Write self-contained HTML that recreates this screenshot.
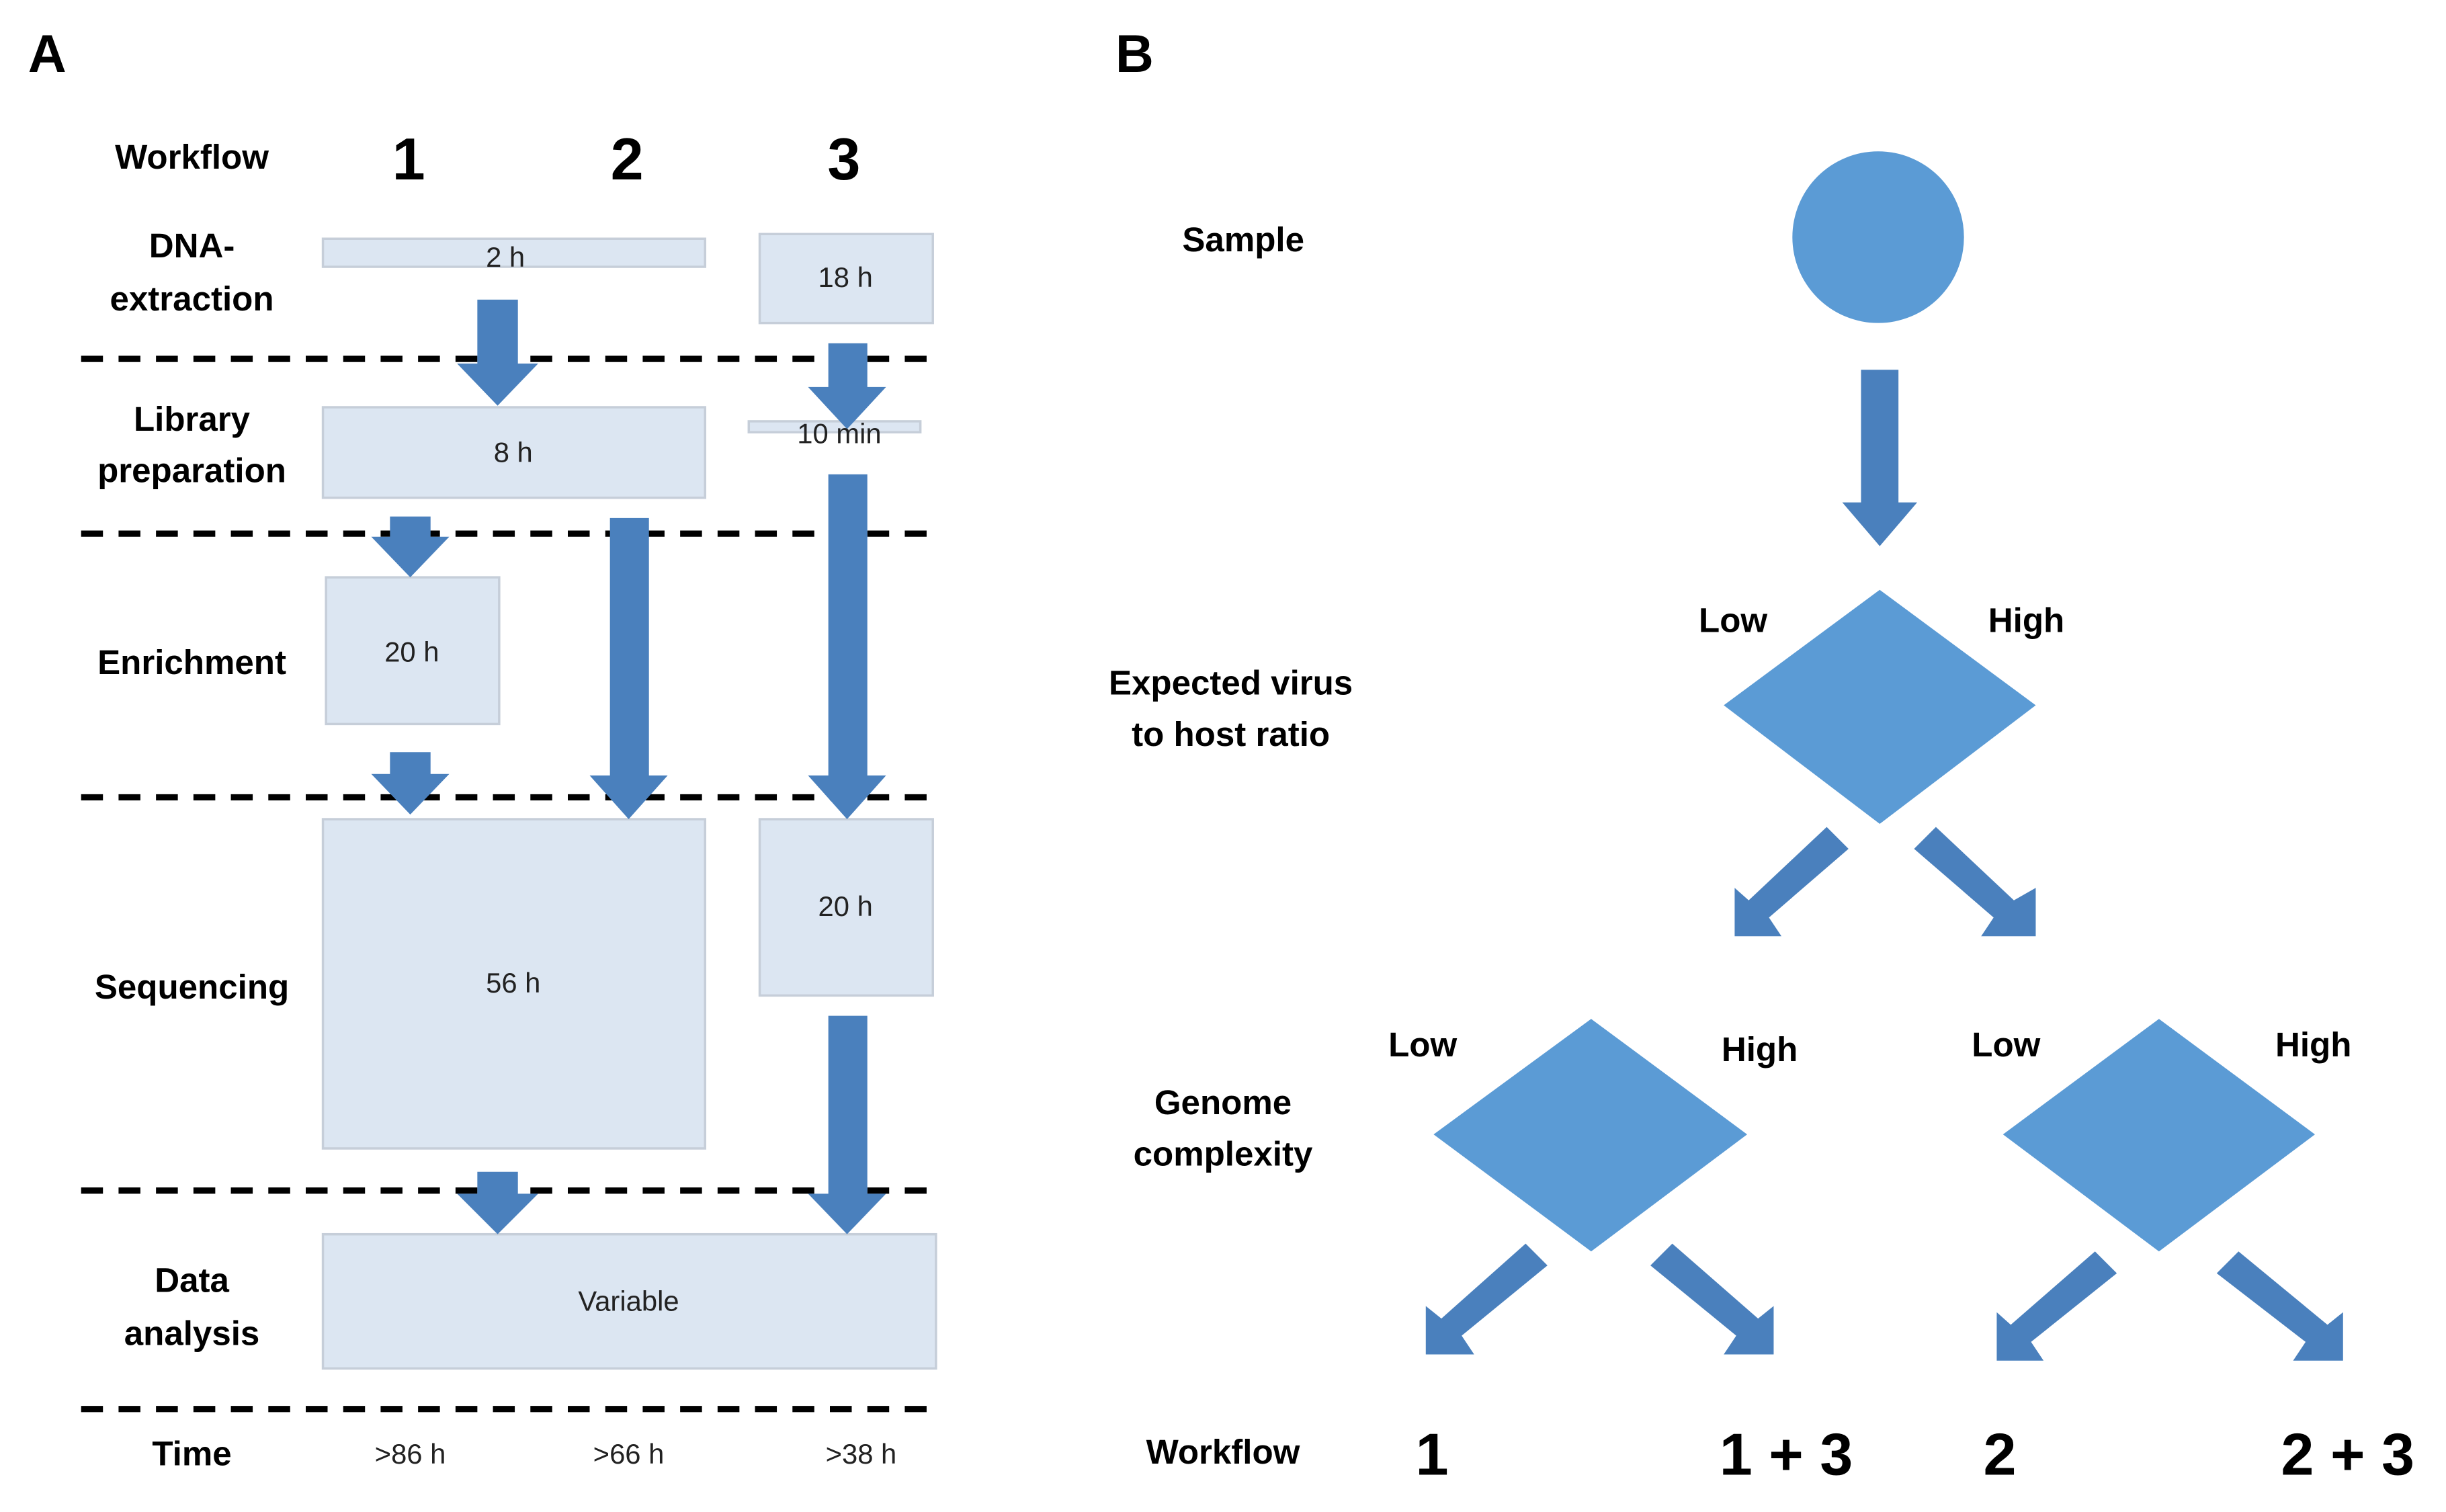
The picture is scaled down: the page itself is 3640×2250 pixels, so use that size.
<!DOCTYPE html>
<html><head><meta charset="utf-8"><style>
html,body{margin:0;padding:0;background:#fff;}
svg{display:block;}
text{font-family:"Liberation Sans",sans-serif;}
.b{font-weight:bold;font-size:22px;}
.n{font-size:18px;fill:#222;}
.big{font-weight:bold;font-size:38px;}
.box{fill:#dce6f2;stroke:#c6ced9;stroke-width:1.5;}
.ar{fill:#4a80bd;}
.sh{fill:#5b9bd5;}
.dash{stroke:#000;stroke-width:4;stroke-dasharray:14 10;}
</style></head><body>
<svg width="3640" height="2250" viewBox="0 0 1568 969" preserveAspectRatio="none" xmlns="http://www.w3.org/2000/svg">
<defs>
<!-- down arrow of unit pointing down, origin at tip -->
</defs>
<text x="18" y="46" style="font-size:34px;font-weight:bold">A</text>
<text x="715" y="46" style="font-size:34px;font-weight:bold">B</text>

<g text-anchor="middle">
<text class="b" x="123" y="108">Workflow</text>
<text class="big" x="262" y="115">1</text>
<text class="big" x="402" y="115">2</text>
<text class="big" x="541" y="115">3</text>
<text class="b" x="123" y="165">DNA-</text>
<text class="b" x="123" y="199">extraction</text>
<text class="b" x="123" y="276">Library</text>
<text class="b" x="123" y="309">preparation</text>
<text class="b" x="123" y="432">Enrichment</text>
<text class="b" x="123" y="640">Sequencing</text>
<text class="b" x="123" y="828">Data</text>
<text class="b" x="123" y="862">analysis</text>
<text class="b" x="123" y="939">Time</text>
</g>

<g>
<line class="dash" x1="52" y1="230" x2="603" y2="230"/>
<line class="dash" x1="52" y1="342" x2="603" y2="342"/>
<line class="dash" x1="52" y1="511" x2="603" y2="511"/>
<line class="dash" x1="52" y1="763" x2="603" y2="763"/>
<line class="dash" x1="52" y1="903" x2="603" y2="903"/>
</g>

<rect class="box" x="207" y="153" width="245" height="18"/>
<rect class="box" x="487" y="150" width="111" height="57"/>
<rect class="box" x="207" y="261" width="245" height="58"/>
<rect class="box" x="480" y="270" width="110" height="7"/>
<rect class="box" x="209" y="370" width="111" height="94"/>
<rect class="box" x="207" y="525" width="245" height="211"/>
<rect class="box" x="487" y="525" width="111" height="113"/>
<rect class="box" x="207" y="791" width="393" height="86"/>

<!-- vertical arrows: shaft x±13, head x±25 -->
<g class="ar">
<polygon points="306,192 332,192 332,233 345,233 319,260 293,233 306,233"/>
<polygon points="531,220 556,220 556,248 568,248 543,275 518,248 531,248"/>
<polygon points="250,331 276,331 276,344 288,344 263,370 238,344 250,344"/>
<polygon points="391,332 416,332 416,497 428,497 403,525 378,497 391,497"/>
<polygon points="531,304 556,304 556,497 568,497 543,525 518,497 531,497"/>
<polygon points="250,482 276,482 276,496 288,496 263,522 238,496 250,496"/>
<polygon points="306,751 332,751 332,765 345,765 319,791 293,765 306,765"/>
<polygon points="531,651 556,651 556,765 568,765 543,791 518,765 531,765"/>
</g>

<g class="n" text-anchor="middle">
<text x="324" y="171">2 h</text>
<text x="542" y="184">18 h</text>
<text x="329" y="296">8 h</text>
<text x="538" y="284">10 min</text>
<text x="264" y="424">20 h</text>
<text x="329" y="636">56 h</text>
<text x="542" y="587">20 h</text>
<text x="403" y="840">Variable</text>
<text x="263" y="938">&gt;86 h</text>
<text x="403" y="938">&gt;66 h</text>
<text x="552" y="938">&gt;38 h</text>
</g>

<!-- B -->
<circle class="sh" cx="1204" cy="152" r="55"/>
<polygon class="ar" points="1193,237 1217,237 1217,322 1229,322 1205,350 1181,322 1193,322"/>
<polygon class="sh" points="1205,378 1305,452 1205,528 1105,452"/>
<polygon class="sh" points="1020,653 1120,727 1020,802 919,727"/>
<polygon class="sh" points="1384,653 1484,727 1384,802 1284,727"/>

<!-- diagonal arrows: base shape pointing down-right/down-left -->
<g class="ar">
<!-- left arrow from (1178,535) to (1112,600) -->
<polygon points="1171,530 1185,544 1134,588 1142,600 1112,600 1112,569 1121,577"/>
<polygon points="1241,530 1227,544 1278,588 1270,600 1305,600 1305,569 1291,577"/>
<polygon points="978,797 992,811 937,856 945,868 914,868 914,837 924,845"/>
<polygon points="1072,797 1058,811 1113,856 1105,868 1137,868 1137,837 1127,845"/>
<polygon points="1343,802 1357,816 1302,860 1310,872 1280,872 1280,841 1289,849"/>
<polygon points="1435,802 1421,816 1478,860 1470,872 1502,872 1502,841 1492,849"/>
</g>

<g text-anchor="middle">
<text class="b" x="797" y="161">Sample</text>
<text class="b" x="789" y="445">Expected virus</text>
<text class="b" x="789" y="478">to host  ratio</text>
<text class="b" x="1111" y="405">Low</text>
<text class="b" x="1299" y="405">High</text>
<text class="b" x="784" y="714">Genome</text>
<text class="b" x="784" y="747">complexity</text>
<text class="b" x="912" y="677">Low</text>
<text class="b" x="1128" y="680">High</text>
<text class="b" x="1286" y="677">Low</text>
<text class="b" x="1483" y="677">High</text>
<text class="b" x="784" y="938">Workflow</text>
<text class="big" x="918" y="945">1</text>
<text class="big" x="1145" y="945">1 + 3</text>
<text class="big" x="1282" y="945">2</text>
<text class="big" x="1505" y="945">2 + 3</text>
</g>
</svg>
</body></html>
